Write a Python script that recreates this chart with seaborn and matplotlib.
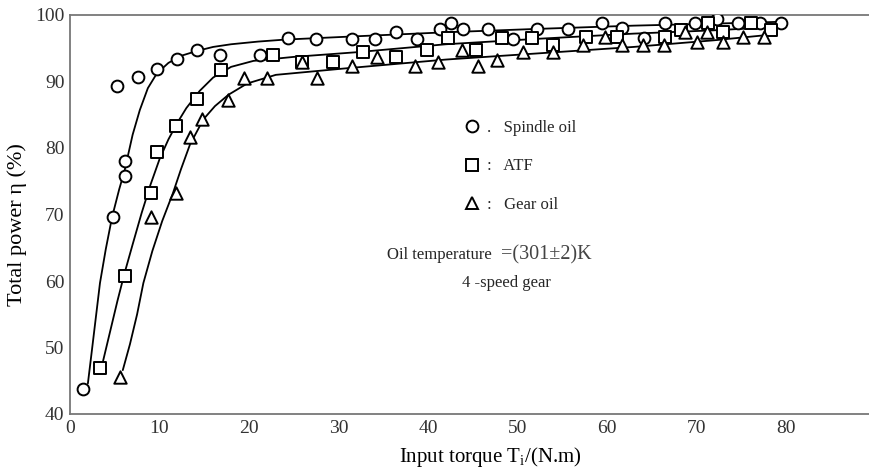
import pandas as pd
import matplotlib
matplotlib.use("Agg")
import matplotlib.pyplot as plt
from matplotlib.lines import Line2D
import seaborn as sns

# measured points
spindle_x = [1.4, 4.8, 5.3, 6.1, 6.1, 7.6, 9.7, 12.0, 14.2, 16.8, 21.2, 24.4, 27.5, 31.5, 34.1,
             36.4, 38.8, 41.3, 42.6, 43.9, 46.7, 49.5, 52.2, 55.6, 59.4, 61.7, 64.2, 66.5, 69.8,
             72.3, 74.6, 77.1, 79.5]
spindle_y = [43.8, 69.6, 89.3, 75.8, 78.0, 90.7, 91.9, 93.4, 94.7, 94.0, 94.0, 96.5, 96.4, 96.4, 96.4,
             97.4, 96.4, 97.9, 98.8, 97.9, 97.9, 96.4, 97.9, 97.9, 98.8, 98.0, 96.6, 98.8, 98.8,
             99.4, 98.8, 98.8, 98.8]

atf_x = [3.4, 6.1, 9.0, 9.7, 11.9, 14.2, 16.9, 22.7, 25.9, 29.4, 32.7, 36.4, 39.9, 42.2, 45.4,
         48.3, 51.6, 54.0, 57.7, 61.1, 66.5, 68.3, 71.3, 73.0, 76.1, 78.3]
atf_y = [46.9, 60.8, 73.2, 79.4, 83.3, 87.3, 91.7, 94.0, 92.9, 92.9, 94.4, 93.7, 94.7, 96.5, 94.7,
         96.5, 96.5, 95.5, 96.7, 96.7, 96.7, 97.7, 98.8, 97.5, 98.8, 97.7]

gear_x = [5.6, 9.0, 11.9, 13.4, 14.8, 17.7, 19.4, 22.0, 25.9, 27.6, 31.5, 34.3, 38.5, 41.1, 43.8,
          45.6, 47.7, 50.6, 54.0, 57.3, 59.8, 61.7, 64.0, 66.4, 68.7, 70.1, 71.2, 73.0, 75.2, 77.5]
gear_y = [45.6, 69.6, 73.2, 81.7, 84.3, 87.2, 90.5, 90.5, 92.9, 90.6, 92.3, 93.7, 92.3, 92.9, 94.7,
          92.4, 93.2, 94.4, 94.4, 95.5, 96.7, 95.5, 95.5, 95.5, 97.5, 95.9, 97.5, 95.9, 96.7, 96.7]

# fitted curves
spindle_fit_x = [2.0, 2.45, 3.35, 4.0, 4.7, 5.5, 6.1, 7.0, 7.8, 8.7, 9.7, 11.0, 12.5, 14.2,
                 16.0, 18.0, 21.0, 24.0, 32.0, 42.0, 52.0, 63.0, 72.0, 80.0]
spindle_fit_y = [44.6, 49.6, 59.7, 64.8, 69.6, 73.8, 76.6, 82.0, 85.7, 89.0, 91.2, 92.8, 93.9, 94.6,
                 95.2, 95.6, 96.0, 96.3, 96.8, 97.4, 97.9, 98.4, 98.7, 99.0]

atf_fit_x = [3.7, 4.5, 5.3, 6.1, 7.0, 8.0, 9.0, 10.0, 11.0, 12.0, 13.0, 14.5, 16.0, 18.0, 20.5,
             25.0, 32.0, 42.0, 52.0, 63.0, 72.0, 79.0]
atf_fit_y = [48.0, 52.5, 57.0, 61.2, 65.5, 70.2, 74.5, 78.3, 81.3, 83.8, 86.0, 88.6, 90.6, 92.2, 93.1,
             93.7, 94.4, 95.6, 96.4, 97.2, 97.7, 98.2]

gear_fit_x = [5.9, 6.7, 7.5, 8.2, 9.2, 10.3, 11.5, 12.4, 13.4, 14.9, 16.2, 17.7, 19.8, 23.0,
              31.0, 42.0, 52.0, 63.0, 72.0, 78.0]
gear_fit_y = [46.6, 50.5, 55.0, 59.7, 64.5, 69.0, 73.2, 76.8, 80.5, 84.3, 86.3, 88.0, 89.7, 91.0,
              92.0, 93.3, 94.2, 95.2, 96.2, 97.0]

labels = ["Spindle oil", "ATF", "Gear oil"]
seps = [".", ":", ":"]
markers = ["o", "s", "^"]
points = [(spindle_x, spindle_y), (atf_x, atf_y), (gear_x, gear_y)]
fits = [(spindle_fit_x, spindle_fit_y), (atf_fit_x, atf_fit_y), (gear_fit_x, gear_fit_y)]

sns.set_theme(style="white")
plt.rcParams["font.family"] = ["Liberation Serif", "DejaVu Serif"]
plt.rcParams["mathtext.fontset"] = "custom"
plt.rcParams["mathtext.rm"] = "Liberation Serif"

fig = plt.figure(figsize=(8.7, 4.73), dpi=100)
ax = fig.add_axes([70 / 870, 59 / 473, 800 / 870, 399 / 473])

for (fx, fy) in fits:
    fdf = pd.DataFrame({"x": fx, "y": fy})
    sns.lineplot(data=fdf, x="x", y="y", ax=ax, color="black", linewidth=1.3,
                 sort=False, estimator=None, zorder=2)

for (px, py), m in zip(points, markers):
    pdf = pd.DataFrame({"x": px, "y": py})
    sns.scatterplot(data=pdf, x="x", y="y", ax=ax, marker=m, s=80 if m == "^" else 72,
                    facecolor="white", edgecolor="black", linewidth=1.4, zorder=3)

ax.set_xlim(0, 89.4)
ax.set_ylim(40, 100)
ax.set_xticks(range(0, 81, 10))
ax.set_yticks(range(40, 101, 10))
ax.tick_params(direction="in", length=9, width=1.2, color="#555555",
               labelsize=14, labelcolor="#333333", pad=4)
for side in ["left", "bottom", "top"]:
    ax.spines[side].set_color("#777777")
    ax.spines[side].set_linewidth(1.3)
ax.spines["right"].set_visible(False)

ax.set_xlabel("Input torque T$_\\mathregular{i}$/(N.m)", fontsize=15, color="black")
ax.set_ylabel("Total power η (%)", fontsize=16, color="black")
ax.xaxis.set_label_coords(0.526, -0.078)
ax.yaxis.set_label_coords(-0.054, 0.476)

handles = [Line2D([], [], linestyle="none", marker=m, markersize=8.5, markerfacecolor="white",
                  markeredgecolor="black", markeredgewidth=1.4) for m in markers]
leg = ax.legend(handles, [f"{s}   {l}" for s, l in zip(seps, labels)], loc="upper left",
                bbox_to_anchor=(464 / 870, 1 - 120 / 473), bbox_transform=fig.transFigure,
                frameon=False, fontsize=12, handlelength=1.0, handletextpad=0.4,
                labelspacing=1.35, borderpad=0, borderaxespad=0)

fig.text(387 / 870, 1 - 255 / 473, "Oil temperature", fontsize=12, va="center", ha="left")
fig.text(501 / 870, 1 - 255 / 473, "=(301±2)K", fontsize=14.5, va="center", ha="left",
         color="#444444")
fig.text(462 / 870, 1 - 283 / 473, "4 -speed gear", fontsize=12, va="center", ha="left")

fig.savefig("out.png", dpi=100)
